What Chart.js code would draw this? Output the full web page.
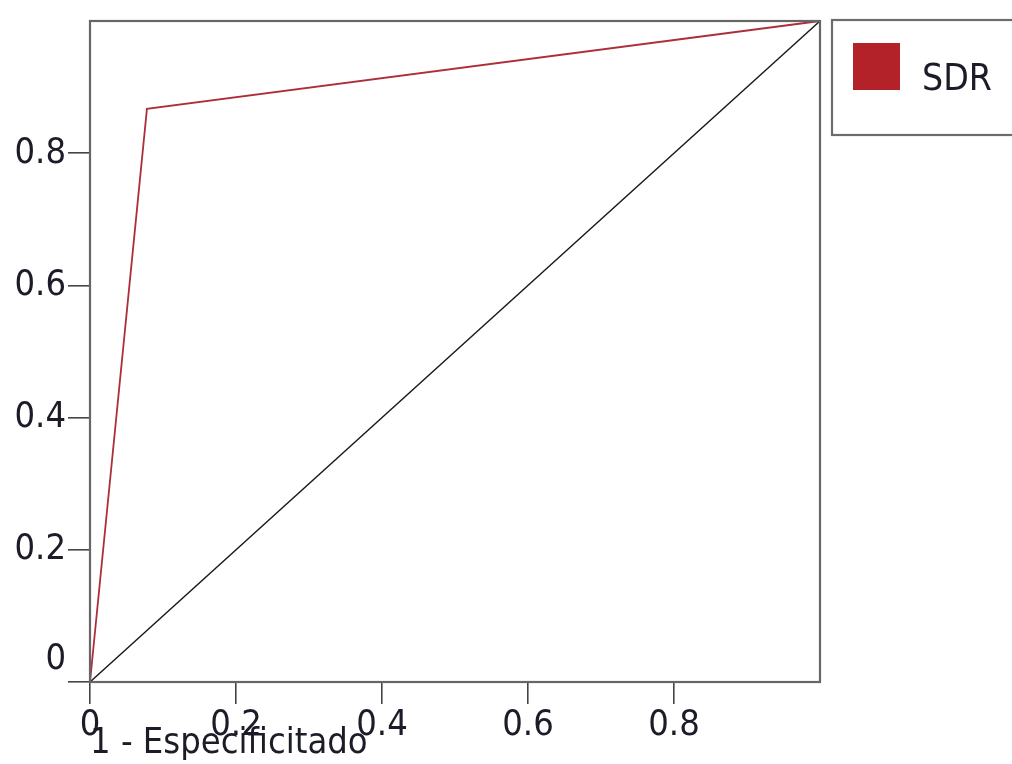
<!DOCTYPE html>
<html>
<head>
<meta charset="utf-8">
<script src="https://cdn.jsdelivr.net/npm/chart.js@4"></script>
<style>
html,body{margin:0;padding:0;background:#fff;}
canvas{display:block;}
</style>
</head>
<body>
<canvas id="c" width="1012" height="764"></canvas>
<script>
// ---- data ----
const seriesName = "SDR";
const fpr = [0, 0.078, 1];          // 1 - Especificitat
const tpr = [0, 0.867, 1];          // Sensibilitat
const diagX = [0, 1];
const diagY = [0, 1];
const xTickValues = [0, 0.2, 0.4, 0.6, 0.8];
const yTickValues = [0, 0.2, 0.4, 0.6, 0.8];
const xTickLabels = ["0", "0.2", "0.4", "0.6", "0.8"];
const yTickLabels = ["0", "0.2", "0.4", "0.6", "0.8"];
const xTitle = "1 - Especificitado";

const FONT = '"DejaVu Sans Condensed", "DejaVu Sans", sans-serif';
const TXT = '#1c1c28';
const RED = '#b22228';

const framePlugin = {
  id: 'frame',
  afterDatasetsDraw(chart) {
    const a = chart.chartArea, ctx = chart.ctx;
    ctx.save();
    ctx.strokeStyle = '#666666';
    ctx.lineWidth = 2.2;
    ctx.strokeRect(a.left, a.top, a.right - a.left, a.bottom - a.top);
    ctx.restore();
  }
};

const legendPlugin = {
  id: 'boxLegend',
  afterDraw(chart) {
    const ctx = chart.ctx, a = chart.chartArea;
    const ds = chart.data.datasets[0];
    const bx = a.right + 12, by = a.top - 1;
    ctx.save();
    ctx.strokeStyle = '#6c6c6c';
    ctx.lineWidth = 2.2;
    ctx.strokeRect(bx, by, 220, 115);
    ctx.fillStyle = RED;
    ctx.fillRect(bx + 21, by + 23, 47, 47);
    ctx.fillStyle = TXT;
    ctx.font = '37px ' + FONT;
    ctx.textBaseline = 'alphabetic';
    ctx.textAlign = 'left';
    ctx.fillText(ds.label, bx + 90, by + 70);
    ctx.restore();
  }
};

const toPts = (xs, ys) => xs.map((x, i) => ({x: x, y: ys[i]}));

new Chart(document.getElementById('c'), {
  type: 'scatter',
  data: {
    datasets: [
      {
        label: seriesName,
        data: toPts(fpr, tpr),
        showLine: true,
        borderColor: '#ad2e38',
        backgroundColor: RED,
        borderWidth: 1.8,
        pointRadius: 0,
        tension: 0,
        clip: 6
      },
      {
        label: 'ref',
        data: toPts(diagX, diagY),
        showLine: true,
        borderColor: '#1a1a1a',
        borderWidth: 1.5,
        pointRadius: 0,
        tension: 0,
        clip: 6
      }
    ]
  },
  options: {
    responsive: false,
    animation: false,
    devicePixelRatio: 1,
    layout: { padding: { left: 0, top: 21, right: 192, bottom: 0 } },
    plugins: { legend: { display: false }, tooltip: { enabled: false }, title: { display: false } },
    scales: {
      x: {
        type: 'linear', min: 0, max: 1,
        afterBuildTicks: s => { s.ticks = xTickValues.map(v => ({value: v})); },
        afterFit: s => { s.height = 82; s.paddingLeft = 0; s.paddingRight = 0; },
        ticks: {
          autoSkip: false, maxRotation: 0, padding: 0,
          color: TXT,
          font: { family: FONT, size: 36, lineHeight: 1.2 },
          callback: (v, i) => xTickLabels[i]
        },
        grid: { drawOnChartArea: false, drawTicks: true, tickLength: 22, color: '#444444', lineWidth: 1.6 },
        border: { display: false },
        title: {
          display: true, text: xTitle, align: 'start', color: TXT,
          font: { family: FONT, size: 36, lineHeight: 1.2 },
          padding: { top: 0, bottom: -1 }
        }
      },
      y: {
        type: 'linear', min: 0, max: 1,
        afterBuildTicks: s => { s.ticks = yTickValues.map(v => ({value: v})); },
        afterFit: s => { s.width = 90; s.paddingTop = 0; s.paddingBottom = 0; },
        ticks: {
          autoSkip: false, padding: 2,
          color: TXT,
          font: { family: FONT, size: 36, lineHeight: 1.25 },
          callback: (v, i) => (i === 0 ? [yTickLabels[i], ""] : yTickLabels[i])
        },
        grid: { drawOnChartArea: false, drawTicks: true, tickLength: 22, color: '#444444', lineWidth: 1.6 },
        border: { display: false }
      }
    }
  },
  plugins: [framePlugin, legendPlugin]
});
</script>
</body>
</html>
